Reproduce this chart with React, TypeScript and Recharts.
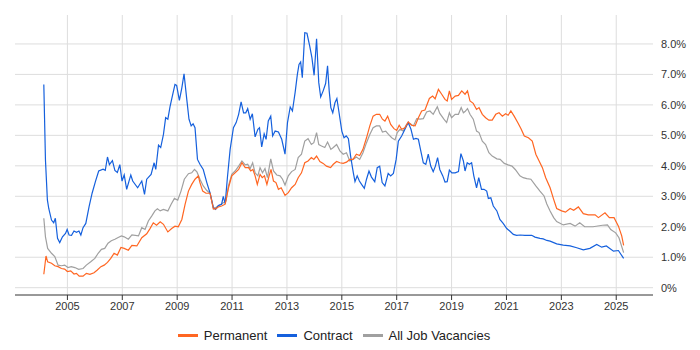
import React from 'react';
import { LineChart, Line, XAxis, YAxis, Legend, ReferenceLine } from 'recharts';

// [year, percent]
const permanent: [number, number][] = [
  [2004.14, 0.44], [2004.22, 1.04], [2004.28, 0.85], [2004.42, 0.8], [2004.54, 0.72], [2004.66, 0.69],
  [2004.78, 0.63], [2004.9, 0.61], [2005.0, 0.53], [2005.12, 0.55], [2005.24, 0.45], [2005.33, 0.47],
  [2005.43, 0.38], [2005.57, 0.38], [2005.69, 0.47], [2005.82, 0.44], [2005.97, 0.49], [2006.09, 0.58],
  [2006.22, 0.69], [2006.34, 0.74], [2006.46, 0.83], [2006.58, 0.96], [2006.7, 1.13], [2006.82, 1.07],
  [2006.95, 1.32], [2007.07, 1.29], [2007.22, 1.23], [2007.35, 1.39], [2007.53, 1.37], [2007.71, 1.64],
  [2007.89, 1.77], [2008.01, 1.94], [2008.13, 2.13], [2008.25, 2.05], [2008.38, 2.16], [2008.5, 2.08],
  [2008.66, 1.83], [2008.8, 1.94], [2008.92, 2.02], [2009.04, 2.0], [2009.17, 2.24], [2009.29, 2.74],
  [2009.41, 3.17], [2009.53, 3.39], [2009.65, 3.56], [2009.77, 3.67], [2009.83, 3.45], [2009.93, 3.17],
  [2010.05, 3.1], [2010.2, 3.1], [2010.32, 2.59], [2010.4, 2.59], [2010.5, 2.65], [2010.62, 2.68],
  [2010.75, 2.74], [2010.87, 3.28], [2010.99, 3.67], [2011.11, 3.77], [2011.24, 3.88], [2011.36, 4.1],
  [2011.48, 3.94], [2011.6, 3.94], [2011.68, 3.83], [2011.76, 3.88], [2011.84, 3.67], [2011.92, 3.39],
  [2012.02, 3.72], [2012.1, 3.61], [2012.18, 3.67], [2012.27, 3.39], [2012.35, 3.67], [2012.42, 3.88],
  [2012.51, 3.5], [2012.6, 3.45], [2012.69, 3.23], [2012.79, 3.28], [2012.93, 3.03], [2013.05, 3.12],
  [2013.17, 3.28], [2013.3, 3.39], [2013.41, 3.61], [2013.53, 3.77], [2013.65, 4.1], [2013.77, 4.16],
  [2013.89, 4.27], [2013.98, 4.21], [2014.08, 4.32], [2014.2, 4.14], [2014.32, 4.08], [2014.44, 3.99],
  [2014.59, 3.94], [2014.69, 4.05], [2014.81, 4.14], [2014.93, 4.1], [2015.05, 4.08], [2015.17, 4.12],
  [2015.29, 4.21], [2015.41, 4.21], [2015.53, 4.38], [2015.65, 4.34], [2015.77, 4.54], [2015.9, 4.92],
  [2016.02, 5.31], [2016.14, 5.63], [2016.26, 5.69], [2016.38, 5.69], [2016.48, 5.53], [2016.57, 5.47],
  [2016.67, 5.63], [2016.78, 5.36], [2016.9, 5.22], [2017.0, 5.16], [2017.09, 5.33], [2017.18, 5.2],
  [2017.3, 5.25], [2017.42, 5.44], [2017.54, 5.33], [2017.67, 5.31], [2017.79, 5.58], [2017.91, 5.8],
  [2018.03, 5.83], [2018.19, 6.21], [2018.31, 6.29], [2018.4, 6.2], [2018.52, 6.51], [2018.64, 6.35],
  [2018.76, 6.18], [2018.84, 6.13], [2018.92, 6.46], [2019.0, 6.18], [2019.13, 6.29], [2019.25, 6.31],
  [2019.37, 6.46], [2019.49, 6.35], [2019.58, 6.46], [2019.67, 6.13], [2019.79, 6.05], [2019.91, 5.85],
  [2020.0, 5.91], [2020.12, 5.69], [2020.24, 5.58], [2020.36, 5.5], [2020.48, 5.5], [2020.61, 5.69],
  [2020.73, 5.74], [2020.85, 5.63], [2020.97, 5.71], [2021.06, 5.66], [2021.16, 5.8], [2021.28, 5.63],
  [2021.41, 5.42], [2021.53, 5.22], [2021.65, 4.98], [2021.8, 4.92], [2021.94, 4.81], [2022.07, 4.38],
  [2022.19, 4.16], [2022.31, 3.94], [2022.43, 3.61], [2022.59, 3.28], [2022.72, 2.9], [2022.83, 2.6],
  [2023.01, 2.52], [2023.15, 2.48], [2023.32, 2.6], [2023.45, 2.54], [2023.62, 2.65], [2023.8, 2.43],
  [2023.98, 2.39], [2024.23, 2.39], [2024.35, 2.3], [2024.59, 2.46], [2024.75, 2.3], [2024.92, 2.3],
  [2025.08, 2.02], [2025.2, 1.7], [2025.27, 1.39],
];

const contract: [number, number][] = [
  [2004.14, 6.67], [2004.2, 4.19], [2004.27, 2.88], [2004.32, 2.6], [2004.42, 2.22], [2004.5, 2.13],
  [2004.56, 2.28], [2004.64, 1.62], [2004.72, 1.48], [2004.82, 1.67], [2004.93, 1.78], [2004.99, 1.91],
  [2005.06, 1.73], [2005.15, 1.72], [2005.24, 1.86], [2005.33, 1.82], [2005.42, 1.86], [2005.49, 1.73],
  [2005.57, 1.97], [2005.67, 2.11], [2005.79, 2.66], [2005.9, 3.1], [2006.02, 3.48], [2006.14, 3.83],
  [2006.3, 3.89], [2006.38, 3.85], [2006.46, 4.29], [2006.53, 4.04], [2006.64, 4.17], [2006.73, 3.85],
  [2006.82, 3.78], [2006.91, 4.04], [2006.99, 3.5], [2007.07, 3.7], [2007.16, 3.23], [2007.31, 3.7],
  [2007.38, 3.5], [2007.56, 3.28], [2007.71, 3.5], [2007.81, 3.06], [2007.89, 3.56], [2008.05, 3.72],
  [2008.16, 4.1], [2008.22, 3.88], [2008.32, 4.68], [2008.4, 4.6], [2008.5, 5.03], [2008.58, 5.58],
  [2008.66, 5.53], [2008.74, 5.94], [2008.83, 6.31], [2008.92, 6.67], [2008.98, 6.64], [2009.08, 6.15],
  [2009.17, 6.56], [2009.25, 7.02], [2009.35, 6.18], [2009.43, 5.53], [2009.51, 5.31], [2009.58, 5.38],
  [2009.65, 5.25], [2009.74, 4.21], [2009.83, 4.05], [2009.95, 3.88], [2010.08, 3.45], [2010.2, 3.1],
  [2010.32, 2.63], [2010.4, 2.57], [2010.5, 2.7], [2010.62, 2.74], [2010.68, 3.0], [2010.75, 2.76],
  [2010.83, 3.61], [2010.93, 4.54], [2011.05, 5.25], [2011.15, 5.42], [2011.24, 5.69], [2011.33, 6.1],
  [2011.42, 5.74], [2011.5, 5.74], [2011.57, 5.88], [2011.66, 5.53], [2011.74, 5.71], [2011.84, 4.95],
  [2011.94, 5.2], [2012.0, 5.25], [2012.08, 4.62], [2012.17, 5.05], [2012.24, 4.87], [2012.32, 5.47],
  [2012.41, 5.63], [2012.48, 4.98], [2012.57, 5.14], [2012.69, 5.11], [2012.81, 4.87], [2012.93, 4.38],
  [2013.02, 5.42], [2013.12, 5.93], [2013.2, 5.8], [2013.3, 6.42], [2013.38, 7.0], [2013.44, 7.33],
  [2013.5, 7.41], [2013.56, 6.89], [2013.65, 8.37], [2013.73, 8.35], [2013.83, 7.93], [2013.91, 7.55],
  [2013.99, 6.97], [2014.08, 8.17], [2014.16, 6.73], [2014.23, 6.26], [2014.32, 6.46], [2014.41, 6.7],
  [2014.48, 7.28], [2014.54, 6.46], [2014.6, 5.91], [2014.67, 5.74], [2014.75, 6.07], [2014.82, 6.21],
  [2014.89, 5.8], [2015.0, 5.14], [2015.08, 4.92], [2015.16, 4.98], [2015.24, 4.89], [2015.32, 4.32],
  [2015.42, 3.77], [2015.48, 3.48], [2015.56, 3.67], [2015.64, 3.5], [2015.72, 3.39], [2015.82, 3.26],
  [2015.9, 3.56], [2015.99, 3.83], [2016.08, 3.63], [2016.2, 3.48], [2016.29, 3.94], [2016.38, 3.99],
  [2016.47, 3.45], [2016.57, 3.34], [2016.69, 3.75], [2016.78, 3.67], [2016.88, 3.75], [2016.98, 4.21],
  [2017.06, 4.81], [2017.18, 4.98], [2017.3, 5.2], [2017.42, 5.42], [2017.52, 5.2], [2017.61, 4.87],
  [2017.7, 4.9], [2017.79, 4.87], [2017.87, 4.52], [2017.97, 4.1], [2018.06, 4.05], [2018.15, 4.38],
  [2018.24, 3.99], [2018.33, 3.81], [2018.41, 3.99], [2018.49, 4.27], [2018.57, 3.88], [2018.68, 3.67],
  [2018.76, 3.47], [2018.84, 3.48], [2018.92, 3.86], [2019.01, 3.77], [2019.13, 3.77], [2019.25, 3.81],
  [2019.34, 4.4], [2019.43, 4.16], [2019.49, 3.83], [2019.57, 4.1], [2019.65, 4.05], [2019.73, 4.1],
  [2019.81, 3.67], [2019.91, 3.28], [2019.99, 3.61], [2020.09, 3.23], [2020.18, 3.23], [2020.28, 3.17],
  [2020.34, 2.93], [2020.43, 2.95], [2020.52, 2.68], [2020.65, 2.52], [2020.76, 2.24], [2020.88, 2.11],
  [2021.01, 1.94], [2021.13, 1.85], [2021.25, 1.75], [2021.37, 1.72], [2021.5, 1.73], [2021.67, 1.72],
  [2021.92, 1.72], [2022.04, 1.66], [2022.22, 1.62], [2022.34, 1.6], [2022.47, 1.55], [2022.59, 1.53],
  [2022.83, 1.44], [2023.07, 1.4], [2023.32, 1.37], [2023.56, 1.31], [2023.8, 1.24], [2024.04, 1.29],
  [2024.29, 1.42], [2024.47, 1.33], [2024.64, 1.37], [2024.9, 1.2], [2025.08, 1.22], [2025.27, 0.96],
];

const allJobs: [number, number][] = [
  [2004.14, 2.28], [2004.2, 1.67], [2004.28, 1.29], [2004.42, 1.13], [2004.54, 1.02], [2004.66, 0.74],
  [2004.78, 0.72], [2004.9, 0.74], [2005.02, 0.66], [2005.14, 0.69], [2005.27, 0.66], [2005.41, 0.6],
  [2005.57, 0.63], [2005.69, 0.74], [2005.85, 0.85], [2006.0, 0.96], [2006.12, 1.13], [2006.24, 1.26],
  [2006.36, 1.29], [2006.48, 1.46], [2006.6, 1.54], [2006.73, 1.59], [2006.85, 1.65], [2006.97, 1.7],
  [2007.07, 1.67], [2007.22, 1.59], [2007.35, 1.73], [2007.59, 1.7], [2007.71, 1.97], [2007.83, 1.91],
  [2007.95, 2.19], [2008.07, 2.35], [2008.19, 2.52], [2008.28, 2.59], [2008.38, 2.52], [2008.5, 2.57],
  [2008.66, 2.52], [2008.78, 2.74], [2008.9, 2.93], [2009.02, 2.87], [2009.14, 3.17], [2009.26, 3.56],
  [2009.41, 3.74], [2009.53, 3.77], [2009.63, 3.88], [2009.72, 3.8], [2009.83, 3.56], [2009.95, 3.34],
  [2010.08, 3.19], [2010.2, 3.1], [2010.32, 2.59], [2010.5, 2.68], [2010.68, 2.79], [2010.78, 2.84],
  [2010.87, 3.34], [2010.99, 3.72], [2011.11, 3.83], [2011.24, 3.99], [2011.36, 4.16], [2011.48, 4.03],
  [2011.57, 4.05], [2011.66, 3.91], [2011.75, 4.1], [2011.84, 3.77], [2011.94, 3.67], [2012.02, 3.94],
  [2012.11, 3.77], [2012.2, 3.91], [2012.29, 3.61], [2012.41, 4.23], [2012.51, 3.83], [2012.63, 3.7],
  [2012.75, 3.67], [2012.84, 3.56], [2012.93, 3.37], [2013.05, 3.67], [2013.17, 3.81], [2013.3, 3.88],
  [2013.41, 4.27], [2013.53, 4.38], [2013.65, 4.81], [2013.77, 4.89], [2013.89, 4.7], [2013.98, 4.76],
  [2014.08, 5.09], [2014.16, 4.7], [2014.26, 4.65], [2014.38, 4.6], [2014.48, 4.78], [2014.6, 4.54],
  [2014.69, 4.6], [2014.81, 4.7], [2014.93, 4.49], [2015.05, 4.38], [2015.17, 4.43], [2015.29, 4.16],
  [2015.41, 4.21], [2015.53, 4.29], [2015.65, 4.21], [2015.77, 4.43], [2015.9, 4.76], [2016.02, 5.03],
  [2016.14, 5.25], [2016.26, 5.31], [2016.38, 5.31], [2016.48, 5.11], [2016.6, 5.14], [2016.7, 5.03],
  [2016.82, 4.92], [2016.94, 4.85], [2017.02, 5.09], [2017.12, 5.2], [2017.24, 5.14], [2017.36, 5.36],
  [2017.48, 5.39], [2017.61, 5.31], [2017.73, 5.55], [2017.85, 5.53], [2017.97, 5.55], [2018.09, 5.77],
  [2018.21, 5.8], [2018.33, 5.69], [2018.48, 5.94], [2018.57, 5.72], [2018.72, 5.53], [2018.82, 5.42],
  [2018.92, 5.74], [2019.0, 5.58], [2019.13, 5.69], [2019.25, 5.69], [2019.35, 5.91], [2019.43, 5.74],
  [2019.49, 5.78], [2019.58, 5.88], [2019.67, 5.69], [2019.79, 5.53], [2019.91, 5.14], [2020.0, 5.09],
  [2020.12, 4.81], [2020.24, 4.7], [2020.36, 4.43], [2020.48, 4.32], [2020.65, 4.23], [2020.77, 4.21],
  [2020.92, 4.08], [2021.06, 4.03], [2021.2, 3.99], [2021.32, 3.88], [2021.49, 3.67], [2021.61, 3.61],
  [2021.74, 3.58], [2021.89, 3.56], [2022.07, 3.34], [2022.22, 3.17], [2022.37, 3.01], [2022.47, 2.75],
  [2022.59, 2.52], [2022.72, 2.3], [2022.83, 2.17], [2023.07, 2.06], [2023.32, 2.11], [2023.5, 2.02],
  [2023.67, 2.13], [2023.85, 2.0], [2024.15, 2.0], [2024.5, 2.05], [2024.68, 2.06], [2024.8, 1.91],
  [2024.98, 1.8], [2025.1, 1.64], [2025.27, 1.15],
];

const yearTicks = [2005, 2007, 2009, 2011, 2013, 2015, 2017, 2019, 2021, 2023, 2025];
const pctTicks = [0, 1, 2, 3, 4, 5, 6, 7, 8];

const series = [
  { name: 'Permanent', color: '#FF6622', points: permanent },
  { name: 'Contract', color: '#1560DD', points: contract },
  { name: 'All Job Vacancies', color: '#A0A0A0', points: allJobs },
];

const toRows = (pts: [number, number][]) => pts.map(([x, y]) => ({ x, y }));

const LegendBox = () => (
  <div style={{ display: 'flex', justifyContent: 'center', alignItems: 'center', height: 30, fontSize: 13, color: '#222' }}>
    {series.map((s) => (
      <div key={s.name} style={{ display: 'flex', alignItems: 'center', margin: '0 5px' }}>
        <span style={{ display: 'inline-block', width: 20, height: 3, background: s.color, marginRight: 6 }} />
        <span>{s.name}</span>
      </div>
    ))}
  </div>
);

const App = () => {
  return (
    <LineChart
      width={700}
      height={342}
      margin={{ top: 7, right: 0, bottom: 0, left: 7 }}
      style={{ fontFamily: '"Liberation Sans", Arial, sans-serif' }}
    >
      {/* grid drawn from the tick lists so no border lines appear */}
      {pctTicks.map((t) => (
        <ReferenceLine key={`h${t}`} y={t} stroke="#dddddd" />
      ))}
      {yearTicks.map((t) => (
        <ReferenceLine key={`v${t}`} x={t} stroke="#dddddd" />
      ))}
      <XAxis
        type="number"
        dataKey="x"
        domain={[2003.09, 2026.34]}
        ticks={yearTicks}
        allowDataOverflow
        height={25}
        tickSize={5}
        stroke="#333"
        tick={{ fontSize: 11, fill: '#333' }}
      />
      <YAxis
        orientation="right"
        domain={[-0.24, 8.95]}
        ticks={pctTicks}
        allowDataOverflow
        width={55}
        axisLine={false}
        tickLine={false}
        tick={{ fontSize: 11, fill: '#333' }}
        tickFormatter={(v: number) => (v === 0 ? '0%' : `${v.toFixed(1)}%`)}
      />
      <Legend
        verticalAlign="bottom"
        content={<LegendBox />}
        wrapperStyle={{ left: 7, width: 638, height: 30 }}
      />
      <Line data={toRows(allJobs)} dataKey="y" name="All Job Vacancies" stroke="#A0A0A0" strokeWidth={1.2} dot={false} isAnimationActive={false} />
      <Line data={toRows(contract)} dataKey="y" name="Contract" stroke="#1560DD" strokeWidth={1.2} dot={false} isAnimationActive={false} />
      <Line data={toRows(permanent)} dataKey="y" name="Permanent" stroke="#FF6622" strokeWidth={1.2} dot={false} isAnimationActive={false} />
    </LineChart>
  );
};

export default App;
